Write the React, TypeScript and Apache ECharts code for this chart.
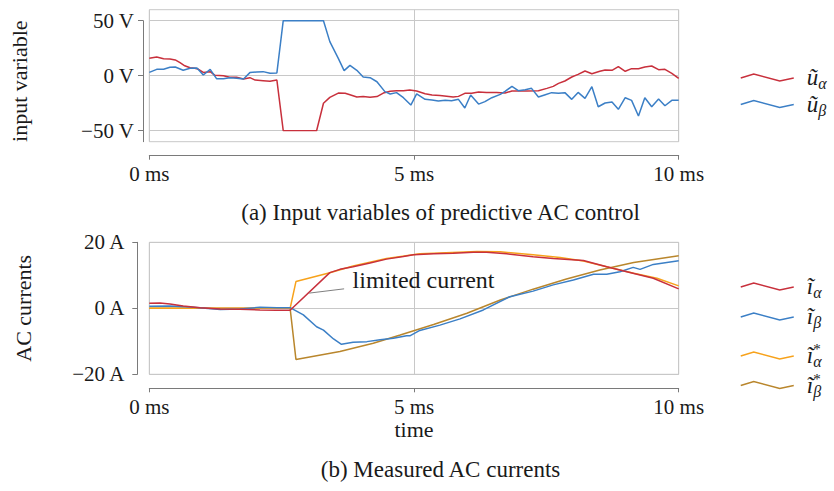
import React, { useEffect, useRef } from "react";
import * as echarts from "echarts";

// ---- data (time in ms, value) ----
const uAlpha: number[][] = [
  [0, 15.8], [0.14, 17], [0.27, 15.5], [0.39, 15.2], [0.49, 14.3], [0.58, 11.8], [0.67, 9], [0.77, 7.3], [0.86, 6.7], [0.93, 5.8],
  [1.02, 3], [1.15, 3.7], [1.24, 0.3], [1.4, 0], [1.52, -1.5], [1.65, -1.5], [1.78, -3], [1.9, -1.8], [2.0, -4], [2.15, -4.5],
  [2.28, -5], [2.41, -4], [2.53, -50], [3.16, -50], [3.29, -25], [3.41, -19.7], [3.57, -15.8], [3.7, -16], [3.79, -17.3], [3.92, -19.4],
  [4.04, -19], [4.17, -19.7], [4.3, -19], [4.42, -15.8], [4.55, -14.2], [4.67, -13.6], [4.8, -13.6], [4.92, -13], [5.05, -13.9], [5.21, -16.4],
  [5.34, -17.6], [5.49, -17.9], [5.74, -19.4], [5.84, -18.8], [5.96, -16], [6.09, -16], [6.22, -14.8], [6.37, -15.2], [6.56, -15.2], [6.72, -15.8],
  [6.85, -13.9], [7.0, -13.9], [7.13, -13.9], [7.35, -13.6], [7.51, -11.5], [7.63, -9.7], [7.73, -7], [7.85, -4.8], [7.98, -1.2], [8.1, 1.2],
  [8.23, 4.3], [8.36, 1.8], [8.51, 4], [8.61, 5.2], [8.74, 4.9], [8.86, 8.2], [8.99, 4], [9.11, 6.4], [9.24, 6.4], [9.36, 7.9],
  [9.49, 8.8], [9.62, 5.5], [9.74, 5.8], [9.87, 2.2], [10, -2.4],
];
const uBeta: number[][] = [
  [0, 3], [0.14, 5.8], [0.27, 5.8], [0.39, 7.6], [0.49, 7.9], [0.64, 4.9], [0.77, 6.7], [0.9, 7], [1.02, 0.6], [1.15, 5.8],
  [1.27, -2.7], [1.4, -2.7], [1.52, -1.8], [1.65, -2.4], [1.78, -3], [1.9, 2.8], [2.03, 3.4], [2.15, 3.7], [2.28, 2.2], [2.41, 2.5],
  [2.53, 50], [3.29, 50], [3.41, 31], [3.57, 15.8], [3.68, 4.6], [3.79, 9.4], [3.92, 4.9], [4.04, -1.2], [4.17, -1.8], [4.3, -5.5],
  [4.45, -14.5], [4.55, -16.6], [4.67, -15.4], [4.8, -20], [4.94, -26.7], [5.05, -16.6], [5.21, -21.5], [5.34, -22.1], [5.46, -23], [5.59, -22.4],
  [5.71, -22.7], [5.84, -21.5], [5.96, -29.4], [6.07, -17.6], [6.22, -25.8], [6.34, -23.6], [6.47, -20], [6.63, -17], [6.72, -14.2], [6.85, -9.7],
  [6.97, -13.6], [7.1, -12.7], [7.22, -11.5], [7.35, -19.4], [7.48, -17.3], [7.6, -15.4], [7.73, -16], [7.85, -15.4], [7.98, -21.5], [8.1, -15.2],
  [8.23, -20.6], [8.36, -10], [8.48, -28.2], [8.61, -24.8], [8.74, -23.9], [8.86, -30.6], [8.99, -20], [9.11, -22.4], [9.24, -36.7], [9.36, -20],
  [9.49, -28.2], [9.62, -21.2], [9.74, -27.3], [9.87, -22.4], [10, -22.4],
];
const iAlpha: number[][] = [
  [0, 1.5], [0.2, 1.6], [0.39, 1.3], [0.64, 0.7], [0.96, 0.2], [1.34, -0.2], [1.71, -0.3], [2.09, -0.5], [2.41, -0.6], [2.66, -0.6],
  [3.41, 10.8], [3.6, 11.8], [3.85, 12.6], [4.17, 13.7], [4.48, 14.9], [4.8, 15.7], [4.99, 16.2], [5.37, 16.5], [5.74, 16.7], [6.12, 17.0],
  [6.37, 17.0], [6.75, 16.5], [7.25, 15.6], [7.63, 15.1], [8.2, 14.5], [8.64, 12.6], [9.02, 11.1], [9.52, 9.1], [10, 5.9],
];
const iBeta: number[][] = [
  [0, 0.6], [0.39, 0.7], [0.77, 0.4], [1.34, -0.4], [1.71, -0.2], [2.09, 0.3], [2.41, 0.2], [2.66, 0.2], [2.91, -2], [3.16, -5.6],
  [3.29, -6.6], [3.48, -9.3], [3.63, -10.9], [3.85, -10.3], [4.11, -10.1], [4.36, -9.5], [4.61, -9.1], [4.86, -8.3], [4.93, -8.3], [5.11, -6.7],
  [5.49, -5.1], [5.87, -3.2], [6.31, -0.5], [6.81, 3.5], [7.25, 5.2], [7.63, 7.1], [8.01, 8.6], [8.39, 10.3], [8.64, 10.3], [8.89, 11.1],
  [9.14, 12.4], [9.27, 11.8], [9.52, 13.3], [10, 14.4],
];
const iAlphaRef: number[][] = [
  [0, 0], [2.66, 0], [2.77, 8.1], [3.41, 10.8], [3.85, 12.8], [4.48, 15.1], [5.11, 16.5], [5.37, 16.7], [6.19, 17.2], [6.63, 17.1],
  [7.25, 16.2], [7.76, 15.4], [8.2, 14.3], [8.64, 12.6], [9.15, 10.6], [9.59, 9.1], [10, 6.8],
];
const iBetaRef: number[][] = [
  [0, 0], [2.66, 0], [2.77, -15.5], [3.6, -13.1], [4.23, -10.6], [4.74, -8.1], [5.37, -4.9], [6.0, -1.5], [6.63, 2.5], [7.25, 5.8],
  [7.88, 8.9], [8.51, 11.6], [9.15, 13.9], [10, 15.9],
];
const voltTicks = [-50, 0, 50];
const annotationLine: number[][] = [[3.02, 4.6], [3.68, 5.9]];
const annotationText: number[] = [3.83, 8.6];

const RED = "#c8303c";
const BLUE = "#3b7fc6";
const ORANGE = "#f7a21b";
const BROWN = "#b9862c";
const FONT = "'Liberation Serif', 'DejaVu Serif', serif";
const INK = "#1a1a1a";
const BOX = "#c8c8c8";
const AXIS = "#7a7a7a";

const rich = {
  v: { fontSize: 23, fontStyle: "italic", lineHeight: 28, fontFamily: FONT, color: INK },
  sub: { fontSize: 16, fontStyle: "italic", lineHeight: 12, verticalAlign: "bottom", fontFamily: FONT, color: INK },
  sup: { fontSize: 15, lineHeight: 12, width: 0.1, verticalAlign: "top", fontFamily: FONT, color: INK },
};
const legendText: Record<string, string> = {
  ua: "{v|ũ}{sub|α}",
  ub: "{v|ũ}{sub|β}",
  ia: "{v|ĩ}{sub|α}",
  ib: "{v|ĩ}{sub|β}",
  ias: "{v|ĩ}{sup|*}{sub|α}",
  ibs: "{v|ĩ}{sup|*}{sub|β}",
};
const legendColor: Record<string, string> = { ua: RED, ub: BLUE, ia: RED, ib: BLUE, ias: ORANGE, ibs: BROWN };
const legendCenter: Record<string, number> = { ua: 80, ub: 106.5, ia: 289, ib: 319, ias: 355.5, ibs: 385 };

function makeLegend(name: string) {
  return {
    orient: "vertical",
    left: 740,
    top: legendCenter[name] - 14,
    padding: 0,
    itemWidth: 53,
    itemHeight: 7,
    selectedMode: false,
    icon: "path://M0,4 L13,0 L39,7 L53,4",
    data: [{ name, itemStyle: { color: "transparent", borderColor: legendColor[name], borderWidth: 1.5 } }],
    formatter: (n: string) => legendText[n],
    textStyle: { rich, padding: [0, 0, 0, 8] },
  };
}

export default function App() {
  const ref = useRef<HTMLDivElement>(null);
  useEffect(() => {
    if (!ref.current) return;
    const chart = echarts.init(ref.current, undefined, { renderer: "svg" });
    const L = 149.3, W = 529.4, YL = 137.3;
    const lineSeries = (name: string, data: number[][], color: string, ax: number) => ({
      name, type: "line", data, xAxisIndex: ax, yAxisIndex: ax, showSymbol: false, symbol: "none",
      lineStyle: { color, width: 1.5 }, itemStyle: { color }, z: 3,
    });
    const tickLabel = { fontFamily: FONT, fontSize: 21, color: INK };
    const axLine = () => ({ show: true, onZero: false, lineStyle: { color: AXIS, width: 1 } });
    const hiddenX = (g: number) => ({ gridIndex: g, type: "value", min: 0, max: 10, show: false });
    const hiddenY = (g: number) => ({ gridIndex: g, type: "value", min: -1, max: 1, show: false });
    const nameStyle = { fontFamily: FONT, fontSize: 22, color: INK };
    chart.setOption({
      animation: false,
      textStyle: { fontFamily: FONT },
      title: [
        { text: "(a) Input variables of predictive AC control", left: 440.5, top: 201, padding: 0, textAlign: "center",
          textStyle: { fontFamily: FONT, fontSize: 23, fontWeight: "normal", color: INK } },
        { text: "(b) Measured AC currents", left: 440.5, top: 458, padding: 0, textAlign: "center",
          textStyle: { fontFamily: FONT, fontSize: 23, fontWeight: "normal", color: INK } },
      ],
      legend: ["ua", "ub", "ia", "ib", "ias", "ibs"].map(makeLegend),
      grid: [
        // 0: top box
        { left: L, top: 9.7, width: W, height: 132, show: true, borderColor: BOX, borderWidth: 1, backgroundColor: "transparent" },
        // 1: top data
        { left: L, top: 20.7, width: W, height: 110 },
        // 2: top y-axis display
        { left: YL, top: 20.7, width: W + L - YL, height: 121 },
        // 3: top x-axis display
        { left: L, top: 9.7, width: W, height: 146 },
        // 4: bottom box + data
        { left: L, top: 242.3, width: W, height: 132, show: true, borderColor: BOX, borderWidth: 1, backgroundColor: "transparent" },
        // 5: bottom y-axis display
        { left: YL, top: 242.3, width: W + L - YL, height: 132 },
        // 6: bottom x-axis display
        { left: L, top: 242.3, width: W, height: 146 },
      ],
      xAxis: [
        { gridIndex: 0, type: "value", min: 0, max: 10, interval: 5,
          axisLine: { show: false }, axisTick: { show: false }, axisLabel: { show: false },
          splitLine: { show: true, lineStyle: { color: BOX, width: 1 } } },
        hiddenX(1),
        hiddenX(2),
        { gridIndex: 3, type: "value", min: 0, max: 10, interval: 5, position: "bottom",
          axisLine: axLine(),
          axisTick: { show: true, length: 4, lineStyle: { color: AXIS } },
          axisLabel: { ...tickLabel, margin: 8, formatter: (v: number) => `${v} ms` },
          splitLine: { show: false } },
        { gridIndex: 4, type: "value", min: 0, max: 10, interval: 5,
          axisLine: { show: false }, axisTick: { show: false }, axisLabel: { show: false },
          splitLine: { show: true, lineStyle: { color: BOX, width: 1 } } },
        hiddenX(5),
        { gridIndex: 6, type: "value", min: 0, max: 10, interval: 5, position: "bottom",
          axisLine: axLine(),
          axisTick: { show: true, length: 4, lineStyle: { color: AXIS } },
          axisLabel: { ...tickLabel, margin: 8, formatter: (v: number) => `${v} ms` },
          splitLine: { show: false },
          name: "time", nameLocation: "middle", nameGap: 30, nameTextStyle: nameStyle },
      ],
      yAxis: [
        hiddenY(0),
        { gridIndex: 1, type: "value", min: -50, max: 50, interval: 50,
          axisLine: { show: false }, axisTick: { show: false }, axisLabel: { show: false },
          splitLine: { show: true, lineStyle: { color: BOX, width: 1 } } },
        { gridIndex: 2, type: "value", min: -60, max: 50, position: "left",
          axisLine: axLine(),
          axisTick: { show: true, length: 5, customValues: voltTicks, lineStyle: { color: AXIS } },
          axisLabel: { ...tickLabel, margin: 9, customValues: voltTicks,
            formatter: (v: number) => `${v < 0 ? "−" : ""}${Math.abs(v)} V` },
          splitLine: { show: false },
          name: "input variable", nameLocation: "middle", nameGap: 113, nameTextStyle: nameStyle },
        hiddenY(3),
        { gridIndex: 4, type: "value", min: -20, max: 20, interval: 20,
          axisLine: { show: false }, axisTick: { show: false }, axisLabel: { show: false },
          splitLine: { show: true, lineStyle: { color: BOX, width: 1 } } },
        { gridIndex: 5, type: "value", min: -20, max: 20, interval: 20, position: "left",
          axisLine: axLine(),
          axisTick: { show: true, length: 5, lineStyle: { color: AXIS } },
          axisLabel: { ...tickLabel, margin: 13, formatter: (v: number) => `${v < 0 ? "−" : ""}${Math.abs(v)} A` },
          splitLine: { show: false },
          name: "AC currents", nameLocation: "middle", nameGap: 103, nameTextStyle: nameStyle },
        hiddenY(6),
      ],
      series: [
        lineSeries("ua", uAlpha, RED, 1),
        lineSeries("ub", uBeta, BLUE, 1),
        lineSeries("ibs", iBetaRef, BROWN, 4),
        lineSeries("ias", iAlphaRef, ORANGE, 4),
        lineSeries("ib", iBeta, BLUE, 4),
        {
          ...lineSeries("ia", iAlpha, RED, 4),
          markLine: {
            silent: true, symbol: ["none", "none"], label: { show: false },
            lineStyle: { color: "#808080", width: 1, type: "solid" },
            data: [[{ coord: annotationLine[0] }, { coord: annotationLine[1] }]],
          },
          markPoint: {
            silent: true, symbol: "circle", symbolSize: 1, itemStyle: { color: "transparent" },
            label: { show: true, position: "right", distance: 0, formatter: "limited current",
              fontFamily: FONT, fontSize: 24, color: INK },
            data: [{ coord: annotationText }],
          },
        },
      ],
    });
    return () => chart.dispose();
  }, []);
  return <div ref={ref} style={{ position: "absolute", left: 0, top: 0, width: 834, height: 491 }} />;
}
